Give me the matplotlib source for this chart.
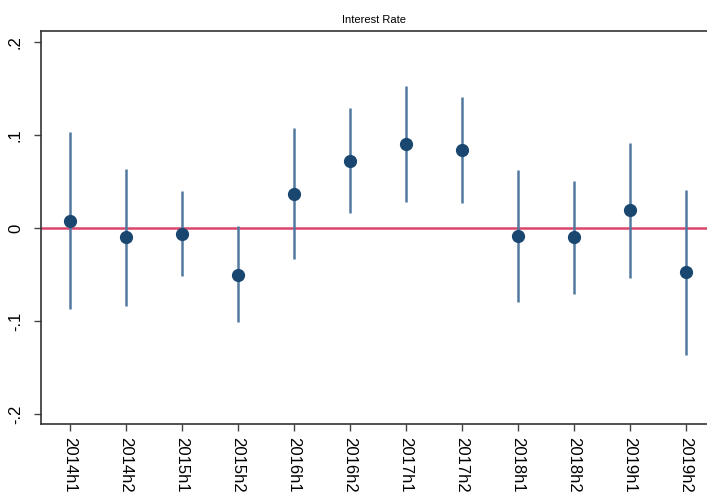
import numpy as np
import matplotlib.pyplot as plt

plt.rcParams['font.family'] = ['Liberation Sans', 'DejaVu Sans']

# half-year periods and estimated coefficients with 95% CI
periods = ["2014h1", "2014h2", "2015h1", "2015h2", "2016h1", "2016h2",
           "2017h1", "2017h2", "2018h1", "2018h2", "2019h1", "2019h2"]
coef = [0.008, -0.010, -0.006, -0.050, 0.037, 0.072,
        0.090, 0.084, -0.009, -0.010, 0.019, -0.047]
ci_low = [-0.087, -0.084, -0.052, -0.101, -0.033, 0.016,
          0.028, 0.027, -0.080, -0.071, -0.054, -0.136]
ci_high = [0.103, 0.063, 0.040, 0.002, 0.107, 0.129,
           0.153, 0.141, 0.062, 0.050, 0.091, 0.041]
yticks = [-0.2, -0.1, 0, 0.1, 0.2]
ylabels = ["-.2", "-.1", "0", ".1", ".2"]

x = np.arange(len(periods))

fig = plt.figure(figsize=(7.07, 4.99), dpi=100)
ax = fig.add_axes([0.058, 0.150, 0.942, 0.788])

ax.axhline(0, color="#d9466b", lw=1.8, zorder=1)
ax.vlines(x, ci_low, ci_high, color="#5279a0", lw=1.8, zorder=2)
ax.plot(x, coef, "o", color="#1a476f", ms=8.5, zorder=3)

ax.set_xlim(-0.52, 11.375)
ax.set_ylim(-0.2108, 0.2118)
ax.set_xticks(x)
ax.set_xticklabels(periods, rotation=-90, fontsize=12)
ax.set_yticks(yticks)
ax.set_yticklabels(ylabels, rotation=90, va="center", fontsize=12)

for side in ["left", "bottom", "top"]:
    ax.spines[side].set_color("#333333")
    ax.spines[side].set_linewidth(1.2)
ax.spines["right"].set_visible(False)
ax.tick_params(axis="both", length=5, width=1, color="#444444")
ax.tick_params(axis="y", pad=8)
ax.tick_params(axis="x", pad=4)

ax.set_title("Interest Rate", fontsize=8, pad=6)

fig.savefig("out.png", dpi=100)
